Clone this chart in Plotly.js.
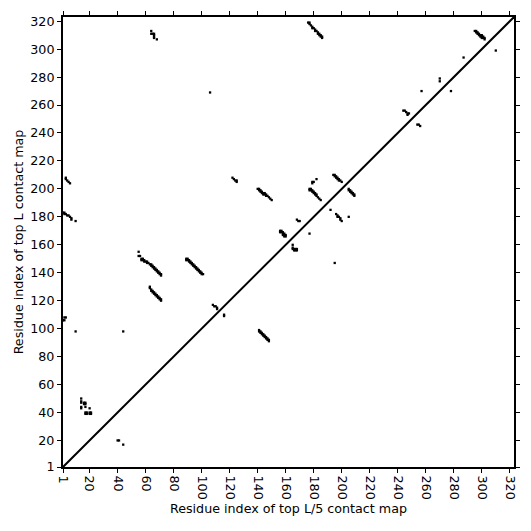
<!DOCTYPE html>
<html>
<head>
<meta charset="utf-8">
<script src="https://cdn.plot.ly/plotly-3.0.1.min.js"></script>
<style>html,body{margin:0;padding:0;background:#fff;}#chart{width:531px;height:531px;}</style>
</head>
<body>
<div id="chart"></div>
<script>
// Sequence length and axis ticks
const seqLength = 323;
const tickValues = [1,20,40,60,80,100,120,140,160,180,200,220,240,260,280,300,320];
const tickLabels = ["1","20","40","60","80","100","120","140","160","180","200","220","240","260","280","300","320"];

// Contacts above the diagonal (residue i on x, residue j on y)
const upperI = [
  3,3,4,5,6,
  1,2,2,3,4,5,6,7,7,10,
  2,3,1,2,
  10,44,
  14,14,14,14,14,16,17,16,17,17,20,17,18,17,18,20,21,20,21,
  40,41,44,
  55,55,56,
  57,58,57,58,59,59,60,61,61,62,63,64,64,65,65,66,66,67,67,68,68,69,69,70,70,71,71,
  89,90,89,90,91,91,92,92,93,93,94,94,95,95,96,96,97,97,98,98,99,99,100,100,101,
  63,63,64,64,65,65,66,66,67,67,68,68,69,69,70,70,71,71,
  106,
  64,64,65,66,66,66,66,68,
  122,123,124,125,125,
  140,141,141,142,142,143,143,144,144,145,145,146,146,147,148,149,150,
  177,178,177,178,179,179,180,180,181,181,182,182,183,184,185,
  179,180,179,182,
  194,195,195,196,196,197,197,198,198,199,200,
  205,205,206,206,207,207,208,208,209,209,
  192,
  196,197,197,198,199,199,200,
  205,
  168,169,170,
  177,
  156,157,156,157,158,158,159,158,159,160,159,160,
  108,109,110,111,111,
  176,177,177,178,179,179,180,181,181,182,183,183,184,184,185,185,186,186,
  244,245,246,247,248,247,
  257,
  270,270,
  287,
  295,296,296,297,297,298,298,299,300,299,300,301,300,301,302,302
];
const upperJ = [
  208,207,206,205,204,
  183,183,182,182,181,181,180,179,178,177,
  108,108,106,106,
  98,98,
  50,48,47,44,43,47,47,46,46,44,43,40,40,39,39,40,40,39,39,
  20,20,17,
  155,152,152,
  150,150,149,149,149,148,148,148,147,147,146,146,145,145,144,144,143,143,142,142,141,141,140,140,139,139,138,
  150,150,149,149,149,148,148,147,147,146,146,145,145,144,144,143,143,142,142,141,141,140,140,139,139,
  130,129,128,127,127,126,126,125,125,124,124,123,123,122,122,121,121,120,
  269,
  313,311,311,311,310,309,308,307,
  208,207,206,206,205,
  200,200,199,199,198,198,197,197,196,197,196,196,195,195,194,193,192,
  200,200,199,199,199,198,198,197,197,196,196,195,194,193,192,
  205,205,204,207,
  210,210,209,209,208,208,207,207,206,206,205,
  200,199,199,198,198,197,197,196,196,195,
  185,
  182,181,180,180,179,178,177,
  180,
  178,177,177,
  168,
  170,170,169,169,169,168,168,167,167,167,166,166,
  117,116,116,115,114,
  319,319,318,317,316,315,315,314,313,313,312,311,311,310,310,309,309,308,
  256,256,255,254,254,253,
  270,
  279,277,
  294,
  313,313,312,312,311,311,310,310,310,309,309,309,308,308,308,307
];

// Contacts below the diagonal
const lowerI = [
  165,165,165,166,167,168,166,167,168,
  195,
  141,141,142,142,143,143,144,144,145,145,146,146,147,147,148,148,
  116,116,
  254,255,256,
  278,
  310
];
const lowerJ = [
  160,158,157,157,157,157,156,156,156,
  147,
  99,98,98,97,97,96,96,95,95,94,94,93,93,92,92,91,
  110,109,
  246,246,245,
  270,
  299
];

const diagonal = [1, seqLength];

const traces = [
  {x: diagonal, y: diagonal, mode: 'lines', line: {color: '#000', width: 2}, hoverinfo: 'skip'},
  {x: upperI, y: upperJ, mode: 'markers', marker: {symbol: 'square', size: 2.3, color: '#000', line: {width: 0}}},
  {x: lowerI, y: lowerJ, mode: 'markers', marker: {symbol: 'square', size: 2.3, color: '#000', line: {width: 0}}}
];

const axisBase = {
  range: [1, seqLength],
  tickmode: 'array',
  tickvals: tickValues,
  ticktext: tickLabels,
  ticks: 'outside',
  ticklen: 4,
  tickwidth: 1,
  tickcolor: '#000',
  showline: true,
  linecolor: '#000',
  linewidth: 2,
  mirror: 'ticks',
  showgrid: false,
  zeroline: false,
  tickfont: {family: 'DejaVu Sans', size: 12.7, color: '#000'}
};

const layout = {
  width: 531,
  height: 531,
  margin: {l: 63, r: 17, t: 17, b: 64},
  paper_bgcolor: '#fff',
  plot_bgcolor: '#fff',
  showlegend: false,
  hovermode: false,
  xaxis: Object.assign({}, axisBase, {
    tickangle: 90,
    title: {text: 'Residue index of top L/5 contact map', font: {family: 'DejaVu Sans', size: 12.7, color: '#000'}, standoff: 5}
  }),
  yaxis: Object.assign({}, axisBase, {
    title: {text: 'Residue index of top L contact map', font: {family: 'DejaVu Sans', size: 12.7, color: '#000'}, standoff: 4}
  })
};

Plotly.newPlot('chart', traces, layout, {displayModeBar: false, staticPlot: true});
</script>
</body>
</html>
